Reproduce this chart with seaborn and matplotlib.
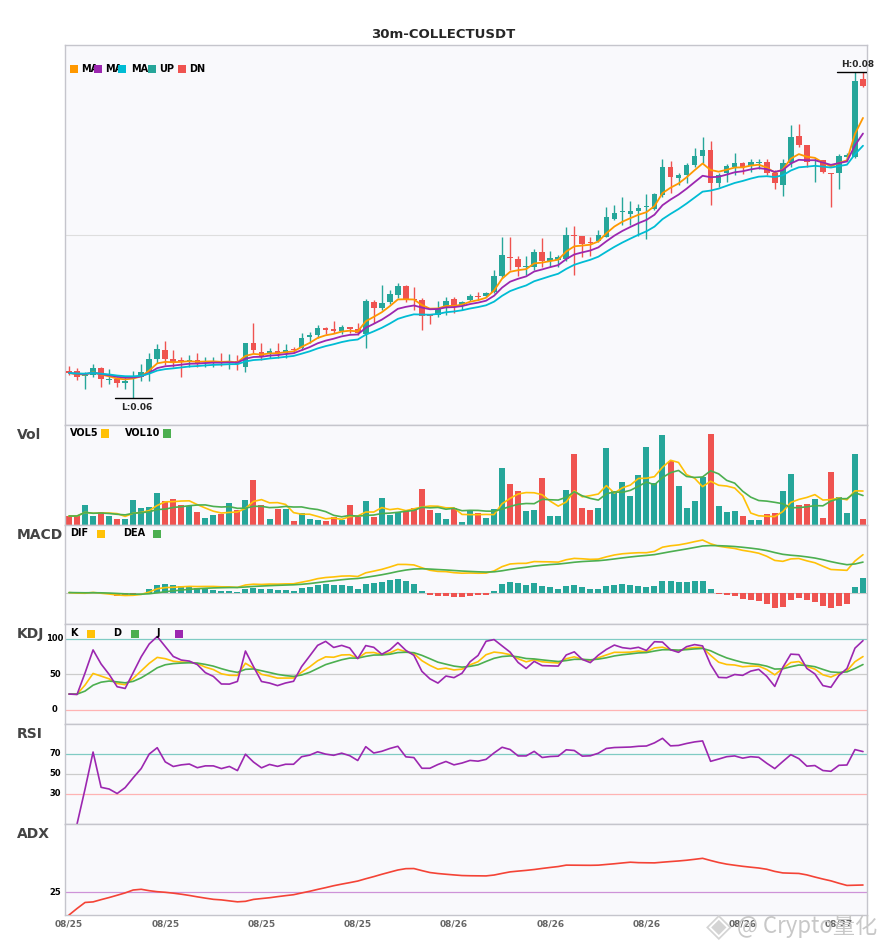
import numpy as np
import pandas as pd
import matplotlib
matplotlib.use("Agg")
import matplotlib.pyplot as plt
from matplotlib.patches import Rectangle
from matplotlib.transforms import blended_transform_factory
import seaborn as sns

# 30m candles of COLLECTUSDT
opens = [0.06285, 0.06285, 0.06260, 0.06265, 0.06300, 0.06238, 0.06245, 0.06225, 0.06250, 0.06255,
         0.06280, 0.06345, 0.06390, 0.06345, 0.06340, 0.06335, 0.06340, 0.06330, 0.06330, 0.06335,
         0.06325, 0.06335, 0.06305, 0.06425, 0.06380, 0.06370, 0.06385, 0.06375, 0.06395, 0.06400,
         0.06455, 0.06465, 0.06500, 0.06495, 0.06485, 0.06505, 0.06495, 0.06470, 0.06630, 0.06600,
         0.06630, 0.06665, 0.06710, 0.06645, 0.06640, 0.06565, 0.06565, 0.06605, 0.06645, 0.06615,
         0.06640, 0.06660, 0.06660, 0.06680, 0.06760, 0.06855, 0.06845, 0.06803, 0.06805, 0.06880,
         0.06835, 0.06840, 0.06845, 0.06965, 0.06960, 0.06930, 0.06935, 0.06955, 0.07045, 0.07078,
         0.07070, 0.07085, 0.07103, 0.07095, 0.07165, 0.07305, 0.07250, 0.07265, 0.07315, 0.07360,
         0.07390, 0.07225, 0.07275, 0.07305, 0.07325, 0.07310, 0.07323, 0.07330, 0.07275, 0.07215,
         0.07325, 0.07460, 0.07415, 0.07335, 0.07340, 0.07275, 0.07275, 0.07355, 0.07355, 0.07745]
highs = [0.06310, 0.06300, 0.06280, 0.06320, 0.06305, 0.06295, 0.06255, 0.06255, 0.06285, 0.06320,
         0.06375, 0.06420, 0.06435, 0.06390, 0.06355, 0.06365, 0.06375, 0.06355, 0.06355, 0.06375,
         0.06370, 0.06365, 0.06425, 0.06525, 0.06425, 0.06400, 0.06425, 0.06420, 0.06405, 0.06475,
         0.06480, 0.06515, 0.06505, 0.06535, 0.06515, 0.06505, 0.06525, 0.06645, 0.06640, 0.06715,
         0.06690, 0.06725, 0.06715, 0.06705, 0.06650, 0.06565, 0.06635, 0.06655, 0.06655, 0.06635,
         0.06670, 0.06680, 0.06680, 0.06790, 0.06955, 0.06955, 0.06860, 0.06860, 0.06895, 0.06950,
         0.06885, 0.06865, 0.07005, 0.07010, 0.06960, 0.06955, 0.06990, 0.07105, 0.07115, 0.07155,
         0.07135, 0.07120, 0.07170, 0.07175, 0.07345, 0.07335, 0.07275, 0.07325, 0.07400, 0.07455,
         0.07435, 0.07275, 0.07320, 0.07375, 0.07330, 0.07345, 0.07345, 0.07345, 0.07290, 0.07345,
         0.07515, 0.07520, 0.07415, 0.07350, 0.07340, 0.07275, 0.07370, 0.07375, 0.07780, 0.07780]
lows = [0.06265, 0.06240, 0.06195, 0.06255, 0.06205, 0.06220, 0.06205, 0.06195, 0.06150, 0.06235,
        0.06235, 0.06325, 0.06315, 0.06305, 0.06255, 0.06305, 0.06305, 0.06305, 0.06305, 0.06310,
        0.06295, 0.06290, 0.06280, 0.06375, 0.06340, 0.06350, 0.06350, 0.06350, 0.06375, 0.06390,
        0.06425, 0.06450, 0.06470, 0.06475, 0.06470, 0.06475, 0.06465, 0.06400, 0.06525, 0.06590,
        0.06620, 0.06650, 0.06630, 0.06590, 0.06490, 0.06520, 0.06555, 0.06565, 0.06575, 0.06590,
        0.06635, 0.06640, 0.06655, 0.06675, 0.06750, 0.06790, 0.06760, 0.06765, 0.06790, 0.06805,
        0.06805, 0.06805, 0.06835, 0.06765, 0.06855, 0.06860, 0.06930, 0.06955, 0.07040, 0.07015,
        0.07015, 0.06960, 0.06945, 0.07090, 0.07155, 0.07175, 0.07215, 0.07225, 0.07305, 0.07325,
        0.07115, 0.07205, 0.07230, 0.07265, 0.07270, 0.07280, 0.07295, 0.07265, 0.07195, 0.07160,
        0.07305, 0.07405, 0.07305, 0.07230, 0.07275, 0.07105, 0.07195, 0.07340, 0.07350, 0.07705]
closes = [0.06275, 0.06255, 0.06265, 0.06300, 0.06245, 0.06240, 0.06225, 0.06235, 0.06255, 0.06280,
          0.06345, 0.06395, 0.06345, 0.06325, 0.06335, 0.06340, 0.06325, 0.06335, 0.06335, 0.06325,
          0.06335, 0.06320, 0.06425, 0.06390, 0.06360, 0.06385, 0.06375, 0.06390, 0.06390, 0.06450,
          0.06465, 0.06500, 0.06490, 0.06485, 0.06505, 0.06495, 0.06475, 0.06635, 0.06600, 0.06625,
          0.06670, 0.06710, 0.06645, 0.06640, 0.06560, 0.06560, 0.06600, 0.06635, 0.06610, 0.06630,
          0.06660, 0.06655, 0.06675, 0.06760, 0.06865, 0.06850, 0.06805, 0.06805, 0.06880, 0.06835,
          0.06850, 0.06855, 0.06965, 0.06960, 0.06920, 0.06925, 0.06965, 0.07055, 0.07075, 0.07080,
          0.07085, 0.07100, 0.07105, 0.07170, 0.07305, 0.07255, 0.07265, 0.07315, 0.07360, 0.07390,
          0.07225, 0.07265, 0.07310, 0.07325, 0.07305, 0.07330, 0.07325, 0.07275, 0.07225, 0.07325,
          0.07455, 0.07415, 0.07330, 0.07340, 0.07280, 0.07270, 0.07360, 0.07365, 0.07735, 0.07710]
volumes = [27, 27, 60, 27, 39, 27, 18, 18, 75, 51,
           54, 96, 72, 78, 60, 57, 39, 21, 30, 33,
           66, 45, 75, 135, 60, 18, 48, 48, 12, 36,
           18, 15, 12, 24, 15, 60, 24, 72, 24, 81,
           30, 39, 42, 51, 108, 45, 36, 18, 51, 9,
           42, 36, 21, 48, 172, 123, 102, 42, 45, 142,
           27, 27, 105, 213, 51, 45, 51, 231, 102, 129,
           87, 150, 234, 126, 270, 192, 117, 51, 72, 144,
           273, 57, 39, 42, 27, 15, 15, 33, 36, 102,
           153, 60, 63, 78, 21, 159, 84, 36, 213, 18]
start_time = "2025-08-25 02:00"

TEAL, RED = "#26a69a", "#ef5350"
MA_COLORS = ["#ff9800", "#9c27b0", "#00bcd4"]
YEL, GRN, PUR = "#ffc107", "#4caf50", "#9c27b0"
BG, SPINE = "#f9f9fc", "#c5c5cc"

df = pd.DataFrame({"open": opens, "high": highs, "low": lows, "close": closes,
                   "volume": np.array(volumes) * 1000.0})
df["time"] = pd.date_range(start_time, periods=len(df), freq="30min")
n = len(df)
x = np.arange(n)
up = (df["close"] >= df["open"]).values
cols = np.where(up, TEAL, RED)

# indicators
c = df["close"]
mas = [c.ewm(span=p, adjust=False).mean() for p in (5, 9, 15)]
vol5 = df["volume"].rolling(5, min_periods=1).mean()
vol10 = df["volume"].rolling(10, min_periods=1).mean()
dif = c.ewm(span=12, adjust=False).mean() - c.ewm(span=26, adjust=False).mean()
dea = dif.ewm(span=9, adjust=False).mean()
hist = 2 * (dif - dea)
llv = df["low"].rolling(9, min_periods=1).min()
hhv = df["high"].rolling(9, min_periods=1).max()
rsv = (c - llv) / (hhv - llv) * 100
k = rsv.ewm(com=2, adjust=False).mean()
d = k.ewm(com=2, adjust=False).mean()
j = 3 * k - 2 * d
diff = c.diff()
gain = diff.clip(lower=0).ewm(alpha=1 / 14).mean()
loss = (-diff.clip(upper=0)).ewm(alpha=1 / 14).mean()
rsi = 100 * gain / (gain + loss)
h, l = df["high"], df["low"]
upm = h.diff()
dnm = -l.diff()
pdm = pd.Series(np.where((upm > dnm) & (upm > 0), upm, 0.0))
mdm = pd.Series(np.where((dnm > upm) & (dnm > 0), dnm, 0.0))
tr = pd.concat([h - l, (h - c.shift()).abs(), (l - c.shift()).abs()], axis=1).max(axis=1)
atr = tr.ewm(alpha=1 / 14, adjust=False).mean()
pdi = 100 * pdm.ewm(alpha=1 / 14, adjust=False).mean() / atr
mdi = 100 * mdm.ewm(alpha=1 / 14, adjust=False).mean() / atr
dx = (100 * (pdi - mdi).abs() / (pdi + mdi)).fillna(0)
adx = dx.ewm(alpha=1 / 14, adjust=False).mean()

sns.set_theme(style="white")
plt.rcParams["font.family"] = ["DejaVu Sans"]

W, H = 885, 950
fig = plt.figure(figsize=(W / 100, H / 100), dpi=100)
LEFT, RIGHT = 65, 867
panels = [("main", 45, 425), ("vol", 425, 525), ("macd", 525, 624),
          ("kdj", 624, 724), ("rsi", 724, 824), ("adx", 824, 915)]
axes = {}
for name, top, bot in panels:
    ax = fig.add_axes([LEFT / W, 1 - bot / H, (RIGHT - LEFT) / W, (bot - top) / H])
    ax.set_facecolor(BG)
    for s in ax.spines.values():
        s.set_color(SPINE)
        s.set_linewidth(1)
    ax.set_xlim(-0.5, n - 0.5)
    ax.set_xticks([])
    ax.set_yticks([])
    axes[name] = ax


def line(ax, y, color, lw=1.2):
    sns.lineplot(x=x, y=np.asarray(y), ax=ax, color=color, linewidth=lw, zorder=4)


def label_text(ax, val, txt):
    tr_ = blended_transform_factory(fig.transFigure, ax.transData)
    ax.text(55 / W, val, txt, transform=tr_, ha="center", va="center",
            fontsize=6, fontweight="bold", color="black", clip_on=False)


# main candles
ax = axes["main"]
lo, hi = df["low"].min(), df["high"].max()
r = hi - lo
ax.set_ylim(lo - 0.083 * r, hi + 0.083 * r)
ax.axhline((lo + hi) / 2, color="#dedede", lw=0.8, zorder=0)
ax.vlines(x, df["low"], df["high"], colors=cols, linewidth=1, zorder=2)
body_lo = np.minimum(df["open"], df["close"])
body_h = np.maximum((df["close"] - df["open"]).abs(), r * 0.003)
ax.bar(x, body_h, bottom=body_lo, width=0.7, color=cols, linewidth=0, zorder=3)
for ma, col in zip(mas, MA_COLORS):
    line(ax, ma, col, 1.3)
ih, il = int(df["high"].idxmax()), int(df["low"].idxmin())
ax.plot([ih - 2.3, ih + 2.3], [hi, hi], color="black", lw=1, zorder=5)
ax.annotate(f"H:{hi:.2f}", (ih + 0.4, hi), xytext=(0, 2.5), textcoords="offset points",
            ha="center", va="bottom", fontsize=6.5, fontweight="bold", annotation_clip=False)
ax.plot([il - 2.3, il + 2.3], [lo, lo], color="black", lw=1, zorder=5)
ax.annotate(f"L:{lo:.2f}", (il + 0.4, lo), xytext=(0, -3.5), textcoords="offset points",
            ha="center", va="top", fontsize=6.5, fontweight="bold")

# volume
ax = axes["vol"]
ax.bar(x, df["volume"], width=0.75, color=cols, linewidth=0, zorder=2)
line(ax, vol5, YEL)
line(ax, vol10, GRN)
ax.set_ylim(0, df["volume"].max() * 1.1)

# macd
ax = axes["macd"]
ax.axhline(0, color="#cccccc", lw=0.8, zorder=1)
ax.bar(x, hist, width=0.75, color=np.where(hist >= 0, TEAL, RED), linewidth=0, zorder=2)
line(ax, dif, YEL)
line(ax, dea, GRN)
mn = min(dif.min(), dea.min(), hist.min())
mx = max(dif.max(), dea.max(), hist.max())
ax.set_ylim(mn - 0.23 * (mx - mn), mx + 0.22 * (mx - mn))

# kdj
ax = axes["kdj"]
for v, col in ((100, "#80cbc4"), (50, "#cccccc"), (0, "#ffb3b3")):
    ax.axhline(v, color=col, lw=0.9, zorder=1)
    label_text(ax, v, str(v))
line(ax, k, YEL)
line(ax, d, GRN)
line(ax, j, PUR)
ax.set_ylim(-20, 121)

# rsi
ax = axes["rsi"]
for v, col in ((70, "#80cbc4"), (50, "#cccccc"), (30, "#ffb3b3")):
    ax.axhline(v, color=col, lw=0.9, zorder=1)
    label_text(ax, v, str(v))
line(ax, rsi, PUR)
ax.set_ylim(0, 100)

# adx
ax = axes["adx"]
ax.axhline(25, color="#ce93d8", lw=0.9, zorder=1)
label_text(ax, 25, "25")
line(ax, adx, "#f44336")
ax.set_ylim(0, 100)
ticks = list(range(0, n, 12))
ax.set_xticks(ticks)
ax.set_xticklabels([df["time"][i].strftime("%m/%d") for i in ticks],
                   fontsize=6.5, fontweight="bold", color="#666666")
ax.tick_params(axis="x", length=0, pad=3)

for a in axes.values():
    a.set_xlabel("")
    a.set_ylabel("")

# titles, legends
fig.text(443 / W, 1 - 34 / H, "30m-COLLECTUSDT", ha="center", va="center",
         fontsize=9.5, fontweight="bold")
for name, top, _ in panels[1:]:
    fig.text(17 / W, 1 - (top + 10) / H, {"vol": "Vol"}.get(name, name.upper()),
             ha="left", va="center", fontsize=10, fontweight="bold", color="#444444")


def legend(items, ypx):
    for kind, xpx, val in items:
        if kind == "t":
            fig.text(xpx / W, 1 - ypx / H, val, ha="left", va="center",
                     fontsize=7, fontweight="bold", color="black", zorder=3)
        else:
            fig.patches.append(Rectangle((xpx / W, 1 - (ypx + 4) / H), 8 / W, 8 / H,
                                         transform=fig.transFigure, facecolor=val,
                                         edgecolor="none", zorder=5))


legend([("s", 70, MA_COLORS[0]), ("t", 81, "MA"), ("s", 94, MA_COLORS[1]), ("t", 105, "MA"),
        ("s", 118, MA_COLORS[2]), ("t", 131, "MA"), ("s", 148, TEAL), ("t", 159, "UP"),
        ("s", 178, RED), ("t", 189, "DN")], 69)
legend([("t", 70, "VOL5"), ("s", 101, YEL), ("t", 125, "VOL10"), ("s", 163, GRN)], 433.5)
legend([("t", 70, "DIF"), ("s", 97, YEL), ("t", 123, "DEA"), ("s", 153, GRN)], 533.5)
legend([("t", 70, "K"), ("s", 87, YEL), ("t", 113, "D"), ("s", 131, GRN),
        ("t", 157, "J"), ("s", 175, PUR)], 633.5)

# watermark
fig.text(719 / W, 1 - 926 / H, "◈", ha="center", va="center", fontsize=24, color="#d4d4d4", zorder=6)
fig.text(737 / W, 1 - 926 / H, "@ Crypto量化", ha="left", va="center", fontsize=16,
         color="#c8c8c8", family=["Noto Sans CJK SC", "DejaVu Sans"], zorder=6)

fig.savefig("out.png", dpi=100)
